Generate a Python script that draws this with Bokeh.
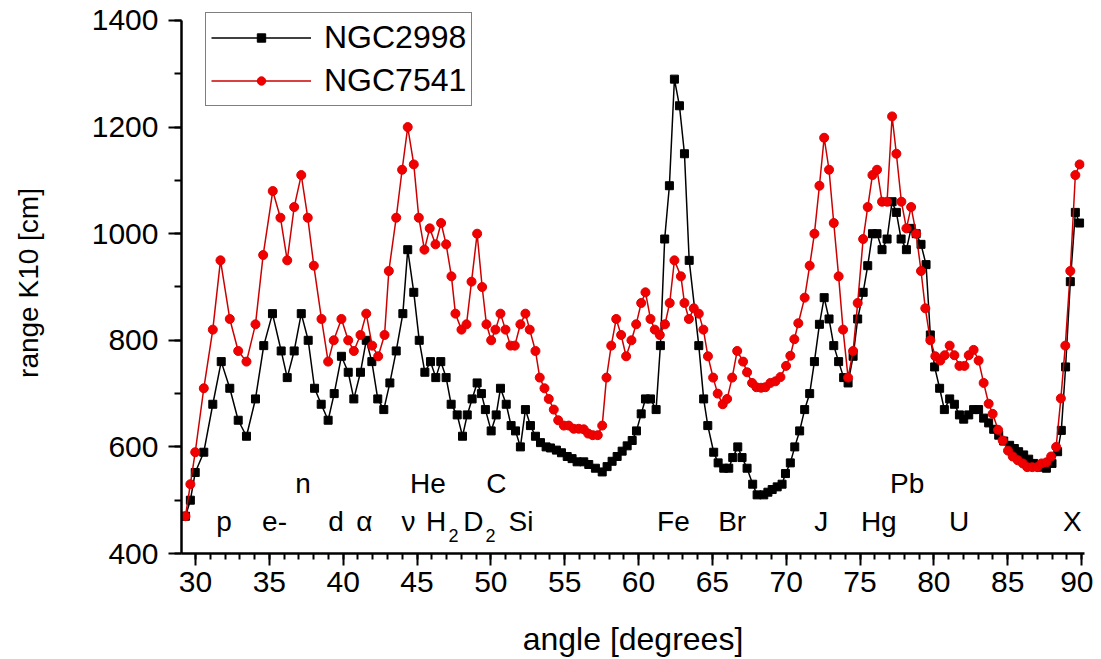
from bokeh.plotting import figure
from bokeh.models import (Range1d, SingleIntervalTicker, FixedTicker, Legend,
                          LegendItem, ColumnDataSource, LinearAxis)
from bokeh.core.properties import value
from bokeh.embed import file_html
from bokeh.resources import INLINE

# ---------------- data ----------------
ngc2998_angle = [29.32, 29.65, 29.98, 30.56, 31.17, 31.74, 32.32, 32.89, 33.45, 34.06,
                 34.62, 35.21, 35.80, 36.21, 36.68, 37.16, 37.63, 38.06, 38.51, 38.98,
                 39.39, 39.88, 40.34, 40.72, 41.17, 41.56, 41.94, 42.34, 42.75, 43.16,
                 43.59, 44.04, 44.37, 44.78, 45.15, 45.53, 45.91, 46.27, 46.61, 46.97,
                 47.31, 47.72, 48.08, 48.40, 48.73, 49.07, 49.36, 49.63, 50.02, 50.36,
                 50.65, 51.04, 51.37, 51.67, 52.00, 52.34, 52.68, 53.02, 53.36, 53.74,
                 54.04, 54.44, 54.78, 55.17, 55.50, 55.84, 56.29, 56.63, 57.08, 57.54,
                 57.87, 58.21, 58.55, 58.89, 59.23, 59.57, 59.86, 60.18, 60.47, 60.81,
                 61.19, 61.48, 61.77, 62.09, 62.43, 62.77, 63.11, 63.43, 64.08, 64.41,
                 64.69, 65.09, 65.39, 65.77, 66.11, 66.38, 66.72, 67.01, 67.35, 67.73,
                 68.03, 68.48, 68.76, 69.05, 69.39, 69.72, 69.95, 70.28, 70.58, 70.91,
                 71.25, 71.59, 71.91, 72.25, 72.57, 72.90, 73.22, 73.55, 73.89, 74.19,
                 74.53, 74.84, 75.21, 75.52, 75.84, 76.15, 76.49, 76.83, 77.17, 77.46,
                 77.78, 78.14, 78.46, 78.80, 79.13, 79.47, 79.76, 80.05, 80.39, 80.71,
                 81.07, 81.39, 81.73, 82.02, 82.36, 82.69, 83.03, 83.37, 83.71, 84.05,
                 84.39, 84.73, 85.13, 85.45, 85.74, 86.08, 86.42, 86.76, 87.21, 87.62,
                 88.00, 88.38, 88.63, 88.92, 89.24, 89.58, 89.87]
ngc2998_range = [470, 500, 552, 590, 680, 760, 710, 650, 620, 690,
                 790, 850, 780, 730, 780, 850, 800, 710, 680, 650,
                 700, 770, 740, 690, 740, 800, 760, 690, 670, 720,
                 780, 850, 970, 890, 800, 740, 760, 730, 760, 730,
                 680, 660, 620, 660, 690, 720, 700, 670, 630, 660,
                 710, 680, 640, 630, 600, 670, 640, 620, 608, 600,
                 598, 594, 589, 582, 578, 572, 572, 567, 560, 553,
                 563, 573, 582, 592, 602, 612, 630, 662, 690, 690,
                 670, 790, 990, 1090, 1290, 1240, 1150, 950, 790, 690,
                 640, 590, 570, 560, 560, 580, 600, 580, 560, 530,
                 510, 510, 515, 520, 525, 530, 550, 570, 600, 630,
                 670, 700, 760, 830, 880, 840, 790, 760, 730, 720,
                 770, 840, 890, 940, 1000, 1000, 970, 990, 1060, 1040,
                 990, 970, 1010, 1000, 980, 942, 810, 750, 710, 670,
                 690, 680, 660, 652, 660, 670, 670, 654, 645, 633,
                 622, 611, 603, 597, 591, 585, 577, 569, 562, 560,
                 569, 591, 631, 750, 910, 1040, 1020]

ngc7541_angle = [29.32, 29.65, 29.98, 30.56, 31.17, 31.69, 32.32, 32.89, 33.45, 34.06,
                 34.58, 35.23, 35.75, 36.21, 36.68, 37.16, 37.60, 38.01, 38.53, 38.98,
                 39.36, 39.88, 40.34, 40.72, 41.17, 41.56, 41.96, 42.37, 42.80, 43.09,
                 43.59, 43.99, 44.37, 44.78, 45.12, 45.50, 45.86, 46.25, 46.63, 46.97,
                 47.33, 47.60, 48.01, 48.35, 48.69, 49.07, 49.41, 49.70, 50.02, 50.31,
                 50.65, 50.99, 51.33, 51.62, 52.00, 52.34, 52.63, 53.02, 53.31, 53.63,
                 53.92, 54.26, 54.56, 54.94, 55.27, 55.61, 55.95, 56.29, 56.59, 56.90,
                 57.24, 57.54, 57.83, 58.15, 58.49, 58.82, 59.16, 59.52, 59.84, 60.18,
                 60.47, 60.81, 61.10, 61.44, 61.79, 62.11, 62.43, 62.87, 63.11, 63.41,
                 63.74, 64.08, 64.39, 64.70, 65.05, 65.36, 65.70, 66.00, 66.34, 66.68,
                 67.08, 67.35, 67.69, 67.98, 68.30, 68.59, 68.93, 69.27, 69.61, 69.99,
                 70.28, 70.55, 70.82, 71.25, 71.59, 71.91, 72.25, 72.57, 72.90, 73.22,
                 73.55, 73.85, 74.19, 74.53, 74.84, 75.21, 75.52, 75.84, 76.15, 76.49,
                 76.83, 77.17, 77.46, 77.80, 78.14, 78.46, 78.80, 79.13, 79.42, 79.76,
                 80.10, 80.44, 80.73, 81.07, 81.39, 81.73, 82.07, 82.36, 82.69, 83.03,
                 83.37, 83.71, 83.98, 84.35, 84.66, 85.02, 85.34, 85.68, 86.02, 86.32,
                 86.66, 87.00, 87.29, 87.62, 87.94, 88.28, 88.60, 88.90, 89.24, 89.58,
                 89.87]
ngc7541_range = [470, 530, 590, 710, 820, 950, 840, 780, 760, 830,
                 960, 1080, 1030, 950, 1050, 1110, 1030, 940, 840, 760,
                 800, 840, 800, 780, 810, 850, 790, 770, 810, 930,
                 1030, 1120, 1200, 1130, 1030, 970, 1010, 980, 1020, 980,
                 920, 850, 820, 830, 910, 1000, 900, 830, 800, 820,
                 850, 820, 790, 790, 830, 850, 820, 780, 730, 710,
                 690, 670, 650, 640, 640, 634, 634, 633, 625, 622,
                 622, 640, 730, 790, 840, 810, 770, 800, 830, 870,
                 890, 840, 820, 810, 830, 870, 950, 920, 870, 840,
                 860, 850, 820, 770, 730, 700, 680, 690, 730, 780,
                 760, 740, 720, 712, 711, 712, 720, 723, 731, 752,
                 771, 802, 832, 880, 940, 1000, 1090, 1180, 1120, 1020,
                 920, 820, 730, 780, 870, 990, 1050, 1110, 1120, 1060,
                 1060, 1220, 1150, 1060, 1010, 1050, 1000, 930, 860, 800,
                 770, 762, 772, 790, 772, 752, 752, 772, 782, 762,
                 720, 681, 662, 632, 612, 593, 582, 575, 569, 562,
                 562, 562, 569, 571, 582, 600, 691, 790, 930, 1110,
                 1130]

series_names = ["NGC2998", "NGC7541"]

# element annotations (text, angle position, range position)
element_text = ["n", "He", "C", "Pb",
                "p", "e-", "d", "\u03b1", "\u03bd", "H", "D", "Si",
                "Fe", "Br", "J", "Hg", "U", "X"]
element_angle = [37.28, 45.74, 50.38, 78.19,
                 31.93, 35.35, 39.51, 41.44, 44.42, 46.30, 48.82, 52.04,
                 62.36, 66.34, 72.37, 76.27, 81.71, 89.38]
element_range = [531, 531, 531, 531,
                 460, 460, 460, 460, 460, 460, 460, 460,
                 460, 460, 460, 460, 460, 460]
subscript_text = ["2", "2"]
subscript_angle = [47.47, 49.97]
subscript_range = [434, 434]

x_label = "angle [degrees]"
y_label = "range K10 [cm]"

# ---------------- figure ----------------
FONT = "Liberation Sans"
p = figure(width=1093, height=659, output_backend="svg", toolbar_location=None,
           x_range=Range1d(29.05, 90.2), y_range=Range1d(400, 1415),
           min_border_left=181, min_border_right=9, min_border_top=12,
           min_border_bottom=105)
p.grid.visible = False
p.outline_line_color = None
p.background_fill_color = "white"
p.border_fill_color = "white"

p.xaxis.ticker = SingleIntervalTicker(interval=5, num_minor_ticks=5)
p.yaxis.ticker = SingleIntervalTicker(interval=200, num_minor_ticks=2)
p.yaxis.bounds = (400, 1400)
for ax in (p.xaxis, p.yaxis):
    ax.axis_line_width = 2.5
    ax.axis_line_color = "black"
    ax.major_tick_line_width = 2
    ax.minor_tick_line_width = 2
    ax.major_tick_in = 0
    ax.minor_tick_in = 0
    ax.major_label_text_font = FONT
    ax.major_label_text_color = "black"
    ax.major_label_text_font_size = "30px"
p.xaxis.major_tick_out = 12
p.xaxis.minor_tick_out = 6
p.yaxis.major_tick_out = 13
p.yaxis.minor_tick_out = 7
p.xaxis.major_label_standoff = 6
p.yaxis.major_label_standoff = 10

p.xaxis.axis_label = x_label
p.xaxis.axis_label_text_font = FONT
p.xaxis.axis_label_text_font_style = "normal"
p.xaxis.axis_label_text_font_size = "32px"
p.xaxis.axis_label_text_color = "black"
p.xaxis.axis_label_standoff = 26

# y-axis title carried by a bare extra axis placed left of the main one
p.extra_y_ranges = {"title": Range1d(400, 1415)}
title_axis = LinearAxis(y_range_name="title", axis_label=y_label,
                        bounds=(473, 1400), ticker=FixedTicker(ticks=[]),
                        axis_line_color=None, major_tick_line_color=None,
                        minor_tick_line_color=None, major_tick_out=0,
                        minor_tick_out=0, major_label_standoff=0,
                        major_label_text_font_size="1px",
                        axis_label_standoff=45,
                        axis_label_text_font=FONT,
                        axis_label_text_font_size="28px",
                        axis_label_text_font_style="normal",
                        axis_label_text_color="black")
p.add_layout(title_axis, "left")

# series
bl = p.line(ngc2998_angle, ngc2998_range, line_color="black", line_width=1.5)
bs = p.scatter(ngc2998_angle, ngc2998_range, marker="square", size=8,
               fill_color="black", line_color="black")
rl = p.line(ngc7541_angle, ngc7541_range, line_color="#cc0000", line_width=1.5)
rs = p.scatter(ngc7541_angle, ngc7541_range, marker="circle", size=9,
               fill_color="#f00000", line_color="#e00000")

# element labels
src = ColumnDataSource(dict(x=element_angle, y=element_range, t=element_text))
p.text(x="x", y="y", text="t", source=src, text_align="center",
       text_baseline="alphabetic", text_font=value(FONT),
       text_font_size="28px", text_color="black")
sub = ColumnDataSource(dict(x=subscript_angle, y=subscript_range, t=subscript_text))
p.text(x="x", y="y", text="t", source=sub, text_align="center",
       text_baseline="alphabetic", text_font=value(FONT),
       text_font_size="18px", text_color="black")

legend = Legend(items=[LegendItem(label=series_names[0], renderers=[bl, bs]),
                       LegendItem(label=series_names[1], renderers=[rl, rs])],
                location=(24, 447), orientation="vertical")
legend.label_text_font = FONT
legend.label_text_font_size = "32px"
legend.label_text_color = "black"
legend.glyph_width = 100
legend.glyph_height = 21
legend.label_height = 39
legend.label_standoff = 13
legend.padding = 5
legend.spacing = 4
legend.margin = 0
legend.border_line_color = "black"
legend.border_line_width = 1.5
legend.background_fill_color = "white"
legend.background_fill_alpha = 1.0
p.add_layout(legend)

open("out.html", "w").write(file_html(p, INLINE))
